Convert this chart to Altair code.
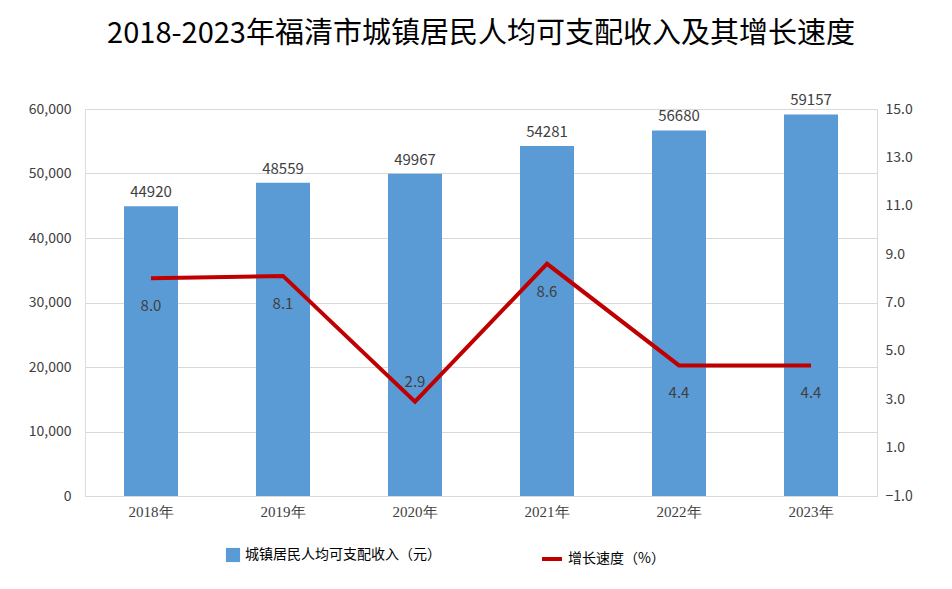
import altair as alt
import pandas as pd

years = ["2018年", "2019年", "2020年", "2021年", "2022年", "2023年"]
income = [44920, 48559, 49967, 54281, 56680, 59157]
growth = [8.0, 8.1, 2.9, 8.6, 4.4, 4.4]
label_dy = [28, 28, -20, 28, 28, 28]

bar_name = "城镇居民人均可支配收入（元）"
line_name = "增长速度（%）"

df = pd.DataFrame({"year": years, "income": income, "growth": growth, "dy": label_dy})
df["s1"] = bar_name
df["s2"] = line_name

font = "Noto Sans CJK SC"
x = alt.X("year:N", title=None, sort=years,
          axis=alt.Axis(labelAngle=0, labelFontSize=15, labelColor="#404040", domainColor="#d9d9d9",
                        ticks=False, labelPadding=8, labelFont="Liberation Serif"))

base = alt.Chart(df).encode(x=x)

iscale = alt.Scale(domain=[0, 60000])
bars = base.mark_bar(size=54).encode(
    y=alt.Y("income:Q", title=None, scale=iscale,
            axis=alt.Axis(values=list(range(0, 60001, 10000)), labelFontSize=14, labelColor="#404040",
                          domain=False, ticks=False, gridColor="#d9d9d9", labelPadding=14)),
    color=alt.Color("s1:N", title=None, scale=alt.Scale(range=["#5B9BD5"]),
                    legend=alt.Legend(orient="none", legendX=140, legendY=438, symbolType="square",
                                      symbolSize=200, labelFontSize=14, labelFont=font, labelLimit=400)),
)
bar_text = base.mark_text(dy=-14, fontSize=15, color="#404040").encode(
    y=alt.Y("income:Q", title=None, scale=iscale),
    text="income:Q",
)
left = alt.layer(bars, bar_text)

gscale = alt.Scale(domain=[-1, 15])
line = base.mark_line(strokeWidth=4).encode(
    y=alt.Y("growth:Q", title=None, scale=gscale,
            axis=alt.Axis(orient="right", values=list(range(-1, 16, 2)), format=".1f", labelFontSize=14,
                          labelColor="#404040", domainColor="#d9d9d9", ticks=False, grid=False,
                          labelPadding=8)),
    stroke=alt.Stroke("s2:N", title=None, scale=alt.Scale(range=["#C00000"]),
                      legend=alt.Legend(orient="none", legendX=455, legendY=438, symbolType="stroke",
                                        symbolStrokeWidth=4, symbolSize=400, labelFontSize=14,
                                        labelFont=font)),
)
line_text = alt.layer(*[
    alt.Chart(df[df["dy"] == d]).mark_text(dy=d, fontSize=15, color="#404040").encode(
        x=x, y=alt.Y("growth:Q", title=None, scale=gscale), text=alt.Text("growth:Q", format=".1f"))
    for d in sorted(set(label_dy))
])
right = alt.layer(line, line_text)

chart = alt.layer(left, right).resolve_scale(y="independent", color="independent").properties(
    width=792, height=387,
    title=alt.TitleParams("2018-2023年福清市城镇居民人均可支配收入及其增长速度", fontSize=29,
                          font=font, fontWeight="normal", color="#000000", offset=44),
    padding={"left": 20, "top": 12, "right": 10, "bottom": 10},
).configure_view(stroke=None).configure(font=font)

chart.save("out.html", embed_options={"renderer": "svg", "actions": False})
